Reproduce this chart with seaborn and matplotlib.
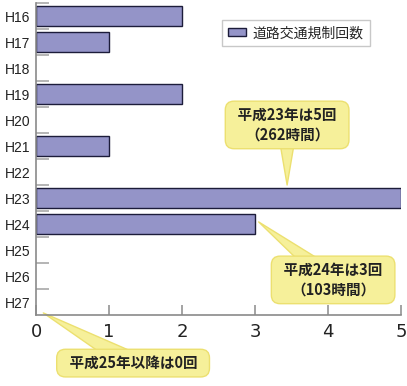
import numpy as np
import pandas as pd
import matplotlib
matplotlib.use('Agg')
import matplotlib.pyplot as plt
import seaborn as sns

# データ
years = ['H16', 'H17', 'H18', 'H19', 'H20', 'H21', 'H22', 'H23', 'H24', 'H25', 'H26', 'H27']
counts = [2, 1, 0, 2, 0, 1, 0, 5, 3, 0, 0, 0]
legend_label = '道路交通規制回数'
note_h23 = '  平成23年は5回  \n（262時間）'
note_h24 = '  平成24年は3回  \n（103時間）'
note_h25 = '  平成25年以降は0回  '

sns.set_theme(style='white')
plt.rcParams['font.family'] = ['Noto Sans CJK JP', 'DejaVu Sans']

df = pd.DataFrame({'year': years, 'count': counts})

fig = plt.figure(figsize=(4.07, 3.86), dpi=100)
ax = fig.add_axes([36 / 407, 71 / 386, 365 / 407, 312 / 386])

sns.barplot(data=df, x='count', y='year', orient='h', color='#9494c8',
            saturation=1, width=0.74, edgecolor='#1c1c3a', linewidth=1.0,
            label=legend_label, ax=ax)
# 0回のバーは枠線を消す
for p in ax.patches:
    if p.get_width() == 0:
        p.set_linewidth(0)

ax.set_xlim(0, 5)
ax.set_ylim(len(years) - 0.5, -0.5)
ax.set_xlabel('')
ax.set_ylabel('')

for s in ['top', 'right']:
    ax.spines[s].set_visible(False)
for s in ['left', 'bottom']:
    ax.spines[s].set_color('#8a8a8a')
    ax.spines[s].set_linewidth(1.2)
    ax.spines[s].set_zorder(5)

ax.set_xticks(range(6))
ax.tick_params(axis='x', bottom=True, direction='in', length=7, width=1.1, color='#8a8a8a',
               pad=6, labelcolor='#222222')
ax.tick_params(axis='y', which='major', left=True, length=0, pad=4, labelcolor='#222222')
for lab in ax.get_xticklabels():
    lab.set_fontfamily(['Liberation Sans Narrow', 'DejaVu Sans'])
    lab.set_fontsize(13)
for lab in ax.get_yticklabels():
    lab.set_fontfamily(['Liberation Sans', 'DejaVu Sans'])
    lab.set_fontsize(10)
ax.set_yticks(np.arange(-0.5, len(years) - 0.5, 1), minor=True)
ax.tick_params(axis='y', which='minor', left=True, direction='in', length=9, color='#a8a8a8',
               width=1.2)

leg = ax.legend(loc='upper left', bbox_to_anchor=(0.51, 0.946), borderaxespad=0,
                frameon=True, fancybox=False, fontsize=10, handlelength=1.25,
                handleheight=0.55, handletextpad=0.5, borderpad=0.45)
leg.get_frame().set_edgecolor('#bbbbbb')
leg.get_frame().set_linewidth(1.0)

# 吹き出し
bubble = dict(boxstyle='round,pad=0.4,rounding_size=0.6', fc='#f6f09a', ec='#ece070', lw=1)
arrow = dict(arrowstyle='wedge,tail_width=1.4,shrink_factor=0.5', fc='#f6f09a', ec='#ece070',
             lw=1, patchA=None, shrinkA=0, shrinkB=0)

ax.annotate(note_h23, xy=(3.44, 6.5), xytext=(3.44, 4.19), ha='center', va='center',
            fontsize=10.5, fontweight='bold', color='#222222', linespacing=1.3,
            bbox=bubble, arrowprops=arrow, annotation_clip=False)
ax.annotate(note_h24, xy=(3.05, 7.92), xytext=(4.07, 10.15), ha='center', va='center',
            fontsize=10.5, fontweight='bold', color='#222222', linespacing=1.3,
            bbox=bubble, arrowprops=arrow, annotation_clip=False)
ax.annotate(note_h25, xy=(0.1, 11.42), xytext=(1.33, 13.35), ha='center', va='center',
            fontsize=10.5, fontweight='bold', color='#222222',
            bbox=bubble, arrowprops=arrow, annotation_clip=False)

fig.savefig('out.png', dpi=100)
